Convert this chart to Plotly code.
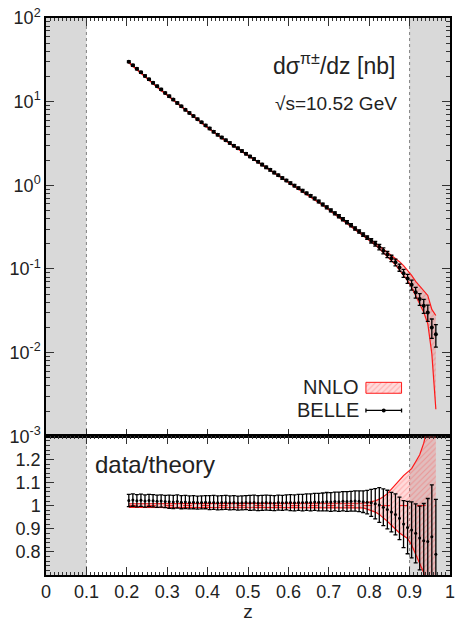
import plotly.graph_objects as go

# ---------------- data ----------------
z = [0.205, 0.215, 0.225, 0.235, 0.245, 0.255, 0.265, 0.275, 0.285, 0.295,
     0.305, 0.315, 0.325, 0.335, 0.345, 0.355, 0.365, 0.375, 0.385, 0.395,
     0.405, 0.415, 0.425, 0.435, 0.445, 0.455, 0.465, 0.475, 0.485, 0.495,
     0.505, 0.515, 0.525, 0.535, 0.545, 0.555, 0.565, 0.575, 0.585, 0.595,
     0.605, 0.615, 0.625, 0.635, 0.645, 0.655, 0.665, 0.675, 0.685, 0.695,
     0.705, 0.715, 0.725, 0.735, 0.745, 0.755, 0.765, 0.775, 0.785, 0.795,
     0.805, 0.815, 0.825, 0.835, 0.845, 0.855, 0.865, 0.875, 0.885, 0.895,
     0.905, 0.915, 0.925, 0.935, 0.945, 0.955, 0.965]

belle = [30.0, 27.2, 24.7, 22.4, 20.3, 18.5, 16.8, 15.3, 14.0, 12.7,
         11.6, 10.6, 9.64, 8.79, 7.98, 7.33, 6.73, 6.17, 5.66, 5.20,
         4.78, 4.38, 4.02, 3.72, 3.46, 3.21, 2.98, 2.77, 2.57, 2.38,
         2.21, 2.06, 1.91, 1.77, 1.64, 1.53, 1.42, 1.32, 1.22, 1.14,
         1.06, 0.991, 0.925, 0.861, 0.802, 0.748, 0.695, 0.640, 0.590, 0.545,
         0.501, 0.462, 0.427, 0.393, 0.362, 0.333, 0.305, 0.281, 0.258, 0.237,
         0.217, 0.200, 0.183, 0.165, 0.149, 0.134, 0.120, 0.104, 0.0891, 0.0767,
         0.0646, 0.0525, 0.0437, 0.0363, 0.0302, 0.0200, 0.0166]

# relative experimental uncertainty of BELLE points
belle_relerr = [0.026, 0.026, 0.026, 0.026, 0.026, 0.026, 0.026, 0.026, 0.026, 0.026,
                0.028, 0.028, 0.028, 0.028, 0.028, 0.028, 0.028, 0.028, 0.028, 0.028,
                0.030, 0.030, 0.030, 0.030, 0.030, 0.030, 0.030, 0.030, 0.030, 0.030,
                0.032, 0.032, 0.032, 0.032, 0.032, 0.032, 0.032, 0.032, 0.032, 0.032,
                0.034, 0.034, 0.034, 0.035, 0.035, 0.036, 0.036, 0.037, 0.038, 0.039,
                0.040, 0.040, 0.041, 0.041, 0.042, 0.042, 0.043, 0.044, 0.046, 0.050,
                0.058, 0.065, 0.075, 0.080, 0.085, 0.088, 0.092, 0.097, 0.110, 0.125,
                0.135, 0.145, 0.160, 0.190, 0.220, 0.260, 0.300]

# data / NNLO theory (central)
ratio = [1.022, 1.024, 1.021, 1.023, 1.020, 1.022, 1.021, 1.019, 1.020, 1.018,
         1.017, 1.016, 1.018, 1.015, 1.016, 1.014, 1.015, 1.013, 1.014, 1.015,
         1.013, 1.014, 1.012, 1.013, 1.014, 1.012, 1.013, 1.011, 1.012, 1.013,
         1.012, 1.013, 1.011, 1.012, 1.013, 1.012, 1.011, 1.013, 1.012, 1.014,
         1.013, 1.012, 1.014, 1.013, 1.015, 1.014, 1.016, 1.015, 1.016, 1.017,
         1.016, 1.018, 1.017, 1.019, 1.018, 1.019, 1.020, 1.019, 1.017, 1.015,
         1.012, 1.008, 1.003, 0.993, 0.983, 0.972, 0.962, 0.945, 0.920, 0.905,
         0.895, 0.880, 0.860, 0.848, 0.845, 0.865, 0.790]

# NNLO uncertainty band relative to its central value
band_up = [
    1.008, 1.008, 1.008, 1.008, 1.008, 1.008, 1.008, 1.008, 1.008, 1.008,
    1.008, 1.008, 1.008, 1.008, 1.008, 1.008, 1.008, 1.008, 1.008, 1.008,
    1.008, 1.008, 1.008, 1.008, 1.008, 1.008, 1.008, 1.008, 1.008, 1.008,
    1.008, 1.008, 1.008, 1.008, 1.008, 1.008, 1.008, 1.008, 1.008, 1.008,
    1.008, 1.008, 1.008, 1.008, 1.008, 1.008, 1.008, 1.008, 1.008, 1.008,
    1.008, 1.008, 1.008, 1.008, 1.008, 1.008, 1.008, 1.009, 1.011, 1.013,
    1.016, 1.021, 1.028, 1.038, 1.052, 1.070, 1.090, 1.110, 1.130, 1.145,
    1.160, 1.190, 1.220, 1.270, 1.350, 1.420, 1.320]
band_lo = [
    0.992, 0.992, 0.992, 0.992, 0.992, 0.992, 0.992, 0.992, 0.992, 0.992,
    0.992, 0.992, 0.992, 0.992, 0.992, 0.992, 0.992, 0.992, 0.992, 0.992,
    0.992, 0.992, 0.992, 0.992, 0.992, 0.992, 0.992, 0.992, 0.992, 0.992,
    0.992, 0.992, 0.992, 0.992, 0.992, 0.992, 0.992, 0.992, 0.992, 0.992,
    0.992, 0.992, 0.992, 0.992, 0.992, 0.992, 0.992, 0.992, 0.992, 0.992,
    0.992, 0.992, 0.992, 0.992, 0.992, 0.992, 0.992, 0.992, 0.990, 0.985,
    0.980, 0.972, 0.962, 0.948, 0.932, 0.915, 0.898, 0.882, 0.870, 0.858,
    0.830, 0.790, 0.750, 0.710, 0.620, 0.420, 0.100]

y_ticks_top = [1e-3, 1e-2, 1e-1, 1e0, 1e1, 1e2]
y_ticktext_top = ["10<sup>-3</sup>", "10<sup>-2</sup>", "10<sup>-1</sup>",
                  "10<sup>0</sup>", "10<sup>1</sup>", "10<sup>2</sup>"]
y_ticks_ratio = [0.8, 0.9, 1.0, 1.1, 1.2]
y_ticktext_ratio = ["0.8", "0.9", "1", "1.1", "1.2"]
x_ticks = [0, 0.1, 0.2, 0.3, 0.4, 0.5, 0.6, 0.7, 0.8, 0.9, 1.0]
x_ticktext = ["0", "0.1", "0.2", "0.3", "0.4", "0.5", "0.6", "0.7", "0.8", "0.9", "1"]
excluded = [(0.0, 0.1), (0.9, 1.0)]

# ---------------- derived quantities ----------------
theory = [d / r for d, r in zip(belle, ratio)]
th_up = [t * u for t, u in zip(theory, band_up)]
th_lo = [t * l for t, l in zip(theory, band_lo)]
belle_err = [d * e for d, e in zip(belle, belle_relerr)]
ratio_err = [r * e for r, e in zip(ratio, belle_relerr)]
log_minor = [m * 10.0 ** p for p in range(-3, 2) for m in range(2, 10)]

FONT = "Liberation Sans"
RED = "#ff1a1a"
TXT = "#222"
TICKC = "#333"
pattern = dict(shape="/", fgcolor="rgba(255,40,40,0.55)", bgcolor="rgba(255,90,90,0.22)",
               size=4, solidity=0.25)

fig = go.Figure()


def band(xs, up, lo, xa, ya):
    fig.add_trace(go.Scatter(
        x=xs + xs[::-1], y=up + lo[::-1], xaxis=xa, yaxis=ya,
        mode="none", fill="toself", fillpattern=pattern,
        hoverinfo="skip", showlegend=False))
    for edge in (up, lo):
        fig.add_trace(go.Scatter(
            x=xs, y=edge, xaxis=xa, yaxis=ya, mode="lines",
            line=dict(color=RED, width=1.2), hoverinfo="skip", showlegend=False))


# ---- top panel ----
band(z, th_up, th_lo, "x", "y")
fig.add_trace(go.Scatter(
    x=z, y=belle, xaxis="x", yaxis="y", mode="markers",
    marker=dict(color="black", size=4),
    error_y=dict(type="data", array=belle_err, color="black", thickness=1.3, width=2),
    showlegend=False))

# ---- ratio panel ----
band(z, band_up, band_lo, "x2", "y2")
fig.add_trace(go.Scatter(
    x=z, y=[1.0] * len(z), xaxis="x2", yaxis="y2", mode="lines",
    line=dict(color=RED, width=1, dash="dash"), showlegend=False))
fig.add_trace(go.Scatter(
    x=z, y=ratio, xaxis="x2", yaxis="y2", mode="markers",
    marker=dict(color="black", size=3),
    error_y=dict(type="data", array=ratio_err, color="black", thickness=1.3, width=2),
    showlegend=False))

# ---- hand-made legend (overlay axis) ----
fig.add_trace(go.Scatter(
    x=[0.05, 0.95, 0.95, 0.05, 0.05], y=[0.59, 0.59, 0.87, 0.87, 0.59],
    xaxis="x3", yaxis="y3", mode="lines", fill="toself", fillpattern=pattern,
    line=dict(color=RED, width=1), hoverinfo="skip", showlegend=False))
fig.add_trace(go.Scatter(
    x=[0.5], y=[0.15], xaxis="x3", yaxis="y3", mode="markers",
    marker=dict(color="black", size=4),
    error_x=dict(type="data", array=[0.45], color="black", thickness=1.3, width=2),
    hoverinfo="skip", showlegend=False))

# ---- excluded regions ----
shapes = []
for lo, hi in excluded:
    shapes.append(dict(type="rect", xref="x", yref="paper", x0=lo, x1=hi, y0=0, y1=1,
                       fillcolor="#d9d9d9", line=dict(width=0), layer="below"))
for xv in (excluded[0][1], excluded[1][0]):
    shapes.append(dict(type="line", xref="x", yref="paper", x0=xv, x1=xv, y0=0, y1=1,
                       line=dict(color="#808080", width=1, dash="dot"), layer="below"))

split = 0.2491
tickfont = dict(family=FONT, size=18, color=TXT)
axis_common = dict(ticks="inside", ticklen=8, tickcolor=TICKC, tickwidth=1,
                   showline=True, linecolor="black", linewidth=1.5, mirror="allticks",
                   showgrid=False, zeroline=False, tickfont=tickfont)
common_x = dict(axis_common, range=[0, 1], tickvals=x_ticks, ticktext=x_ticktext,
                minor=dict(dtick=0.01, ticks="inside", ticklen=3, tickcolor=TICKC,
                           tickwidth=1, showgrid=False))

fig.update_layout(
    width=459, height=622,
    margin=dict(l=46, r=4, t=18, b=46),
    paper_bgcolor="white", plot_bgcolor="rgba(0,0,0,0)",
    font=dict(family=FONT, color=TXT),
    shapes=shapes,
    xaxis=dict(common_x, anchor="y", domain=[0, 1], showticklabels=False),
    yaxis=dict(axis_common, type="log", range=[-3, 2], domain=[split, 1], anchor="x",
               tickvals=y_ticks_top, ticktext=y_ticktext_top,
               minor=dict(tickvals=log_minor, ticks="inside", ticklen=4,
                          tickcolor=TICKC, tickwidth=1, showgrid=False)),
    xaxis2=dict(common_x, anchor="y2", domain=[0, 1],
                title=dict(text="z", font=dict(family=FONT, size=19, color=TXT),
                           standoff=2)),
    yaxis2=dict(axis_common, range=[0.7, 1.3], domain=[0, split], anchor="x2",
                tickvals=y_ticks_ratio, ticktext=y_ticktext_ratio,
                minor=dict(dtick=0.02, ticks="inside", ticklen=4, tickcolor=TICKC,
                           tickwidth=1, showgrid=False)),
    xaxis3=dict(domain=[0.787, 0.885], range=[0, 1], anchor="y3", visible=False,
                fixedrange=True),
    yaxis3=dict(domain=[0.285, 0.355], range=[0, 1], anchor="x3", visible=False,
                fixedrange=True),
    annotations=[
        dict(xref="paper", yref="paper", x=0.868, y=0.918, xanchor="right",
             yanchor="middle", showarrow=False,
             text="dσ<sup>π±</sup>/dz [nb]", font=dict(family=FONT, size=23, color=TXT)),
        dict(xref="paper", yref="paper", x=0.873, y=0.846, xanchor="right",
             yanchor="middle", showarrow=False,
             text="√s=10.52 GeV", font=dict(family=FONT, size=19, color=TXT)),
        dict(xref="paper", yref="paper", x=0.780, y=0.337, xanchor="right",
             yanchor="middle", showarrow=False,
             text="NNLO", font=dict(family=FONT, size=20, color=TXT)),
        dict(xref="paper", yref="paper", x=0.780, y=0.296, xanchor="right",
             yanchor="middle", showarrow=False,
             text="BELLE", font=dict(family=FONT, size=20, color=TXT)),
        dict(xref="paper", yref="paper", x=0.117, y=0.199, xanchor="left",
             yanchor="middle", showarrow=False,
             text="data/theory", font=dict(family=FONT, size=24, color=TXT)),
    ],
)

fig.write_html("out.html")
